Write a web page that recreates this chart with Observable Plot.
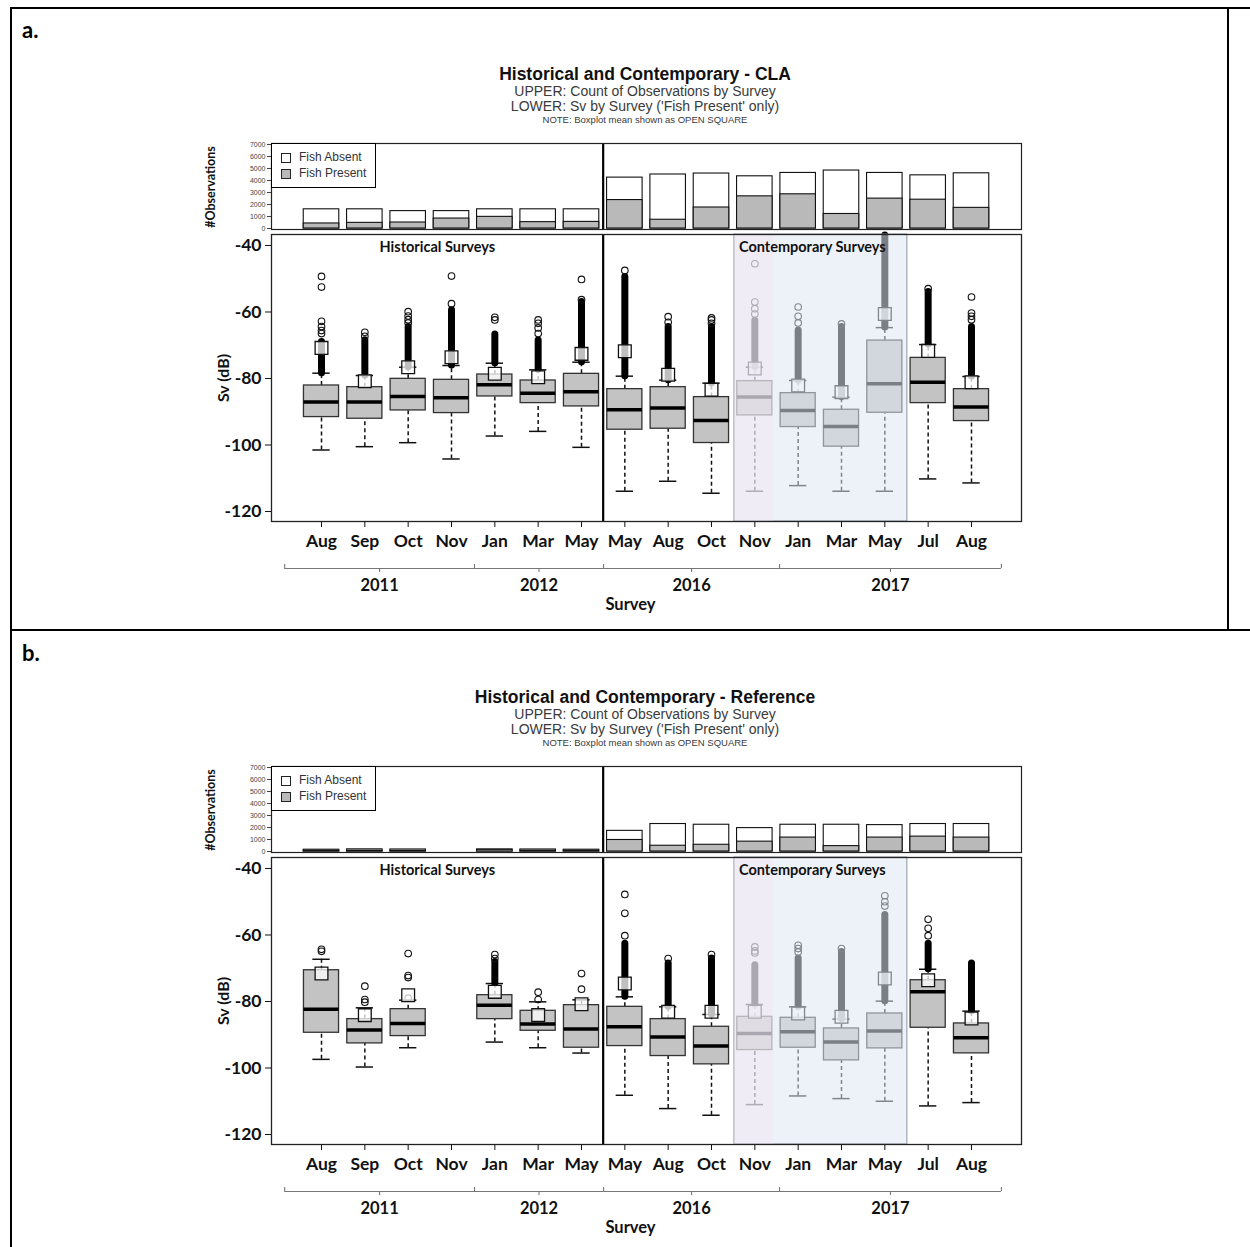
<!DOCTYPE html>
<html>
<head>
<meta charset="utf-8">
<script src="https://cdn.jsdelivr.net/npm/d3@7"></script>
<script src="https://cdn.jsdelivr.net/npm/@observablehq/plot@0.6"></script>
<style>
  body { margin: 0; background: #fff; }
  #root { position: relative; width: 1250px; height: 1247px; overflow: hidden; background: #fff; }
  .abs { position: absolute; }
  .line { position: absolute; background: #000; }
  .t1 { font: bold 17.5px "Liberation Sans", Arial, sans-serif; color: #111; text-align: center; white-space: nowrap; line-height: 18px; }
  .t2 { font: 14px "Liberation Sans", Arial, sans-serif; color: #3a3a3a; text-align: center; white-space: nowrap; line-height: 14px; }
  .t3 { font: 9.5px "Liberation Sans", Arial, sans-serif; color: #3a3a3a; text-align: center; white-space: nowrap; line-height: 10px; }
  .lbl { font: bold 22px Lato, sans-serif; color: #000; }
  .ylab { font-family: Lato, sans-serif; font-weight: bold; color: #111; white-space: nowrap; transform: translate(-50%, -50%) rotate(-90deg); }
  .legend { position: absolute; border: 1px solid #000; background: #fff; box-sizing: border-box; font: 12px "Liberation Sans", Arial, sans-serif; color: #333; }
  .sw { position: absolute; width: 8px; height: 8px; border: 1px solid #222; }
</style>
</head>
<body>
<div id="root"></div>
<script>
// ---------------- DATA ----------------
const months = ["Aug","Sep","Oct","Nov","Jan","Mar","May","May","Aug","Oct","Nov","Jan","Mar","May","Jul","Aug"];
const surveyYears = ["2011","2011","2011","2011","2012","2012","2012","2016","2016","2016","2016","2017","2017","2017","2017","2017"];

// Upper panel counts
const countTotalA   = [1600,1600,1450,1450,1600,1600,1600,4240,4500,4580,4350,4630,4830,4630,4430,4600];
const countPresentA = [ 420, 470, 500, 830, 970, 530, 550,2370, 730,1750,2680,2850,1210,2490,2400,1720];
const countTotalB   = [ 150, 180, 170,   0, 170, 170, 150,1720,2290,2230,1950,2230,2230,2200,2290,2290];
const countPresentB = [  60,  70,  60,   0, 140,  70,  60, 960, 480, 560, 820,1160, 450,1160,1240,1160];

// Lower panel box statistics (Sv dB)
const lowA  = [-101.5,-100.5,-99.3,-104.2,-97.3,-95.9,-100.7,-113.9,-110.9,-114.5,-113.9,-112.2,-113.9,-113.9,-110.2,-111.4];
const q1A   = [-91.6,-92.1,-89.6,-90.4,-85.4,-87.4,-88.4,-95.4,-95.1,-99.4,-91.1,-94.6,-100.5,-90.3,-87.4,-92.8];
const medA  = [-87.1,-87.1,-85.4,-85.8,-81.9,-84.4,-84.0,-89.4,-88.9,-92.6,-85.6,-89.6,-94.4,-81.6,-81.1,-88.6];
const q3A   = [-82.1,-82.6,-80.1,-80.4,-78.8,-80.6,-78.6,-83.2,-82.6,-85.6,-80.8,-84.4,-89.4,-68.6,-73.8,-83.2];
const hiA   = [-78.4,-79.1,-76.6,-76.1,-75.4,-77.4,-75.1,-79.3,-80.5,-81.4,-76.6,-80.6,-85.6,-64.7,-69.8,-79.4];
const meanA = [-70.8,-80.8,-76.6,-73.6,-78.6,-79.6,-72.6,-71.8,-78.9,-83.4,-77.0,-82.1,-84.1,-60.6,-71.7,-81.1];

const lowB  = [-97.4,-99.7,-93.9,null,-92.2,-93.9,-95.5,-108.2,-112.2,-114.2,-111.0,-108.4,-109.2,-110.0,-111.4,-110.4];
const q1B   = [-89.4,-92.6,-90.4,null,-85.3,-88.8,-93.9,-93.4,-96.4,-98.9,-94.6,-93.9,-97.7,-94.1,-87.9,-95.6];
const medB  = [-82.3,-88.6,-86.6,null,-81.1,-86.8,-88.3,-87.6,-90.7,-93.4,-89.6,-89.1,-92.2,-88.9,-77.1,-90.9];
const q3B   = [-70.6,-85.3,-82.3,null,-78.1,-82.8,-81.1,-81.6,-85.3,-87.6,-84.6,-84.9,-88.1,-83.6,-73.6,-86.6];
const hiB   = [-67.3,-81.9,-79.6,null,-74.6,-80.1,-79.5,-78.6,-81.6,-83.9,-80.9,-81.6,-85.3,-79.9,-70.3,-82.9];
const meanB = [-71.6,-84.1,-78.1,null,-77.1,-84.1,-80.8,-74.6,-83.1,-83.1,-83.1,-83.6,-84.6,-73.1,-73.6,-85.1];

// Outliers: dense runs [from, to] and individual points
const denseA = [[-78.4,-69.0],[-79.1,-68.5],[-76.6,-64.5],[-76.1,-59.5],[-75.4,-66.8],[-77.4,-68.6],[-75.1,-57.0],
                [-79.3,-49.5],[-80.5,-64.5],[-81.4,-64.5],[-76.6,-62.6],[-80.6,-65.6],[-85.6,-64.5],[-64.7,-37.0],[-69.8,-54.0],[-79.4,-64.5]];
const sparseA = [[-66.5,-65.6,-64.4,-62.8,-52.5,-49.3],[-67.3,-66.1],[-63.3,-62.3,-61.2,-59.9],[-57.5,-49.2],[-62.4,-61.6],
                 [-66.5,-64.8,-63.4,-62.4],[-56.3,-50.2],[-47.5],[-63.1,-61.4],[-63.4,-62.4,-61.8],[-60.6,-59.0,-57.0,-45.5],
                 [-63.3,-61.3,-58.5],[-63.6],[],[-53.0],[-62.3,-61.3,-60.3,-55.5]];
const denseB = [null,null,null,null,[-74.6,-68.1],null,null,
                [-78.6,-62.6],[-81.6,-68.6],[-83.9,-67.1],[-80.9,-69.1],[-81.6,-67.1],[-85.3,-65.1],[-79.9,-54.0],[-70.3,-62.6],[-82.9,-68.6]];
const sparseB = [[-64.9,-64.3],[-80.2,-79.4,-75.4],[-79.0,-72.8,-72.2,-65.6],[],[-67.1,-65.9],[-79.4,-77.2],[-76.3,-71.6],
                 [-60.2,-53.5,-47.8],[-67.1],[-65.9],[-65.4,-64.8,-63.6],[-65.1,-64.1,-63.1],[-64.1],[-51.3,-50.0,-48.2],[-60.2,-58.0,-55.3],[]];

// Axis ticks and decorations
const countTicks = [0,1000,2000,3000,4000,5000,6000,7000];
const svTicks = [-120,-100,-80,-60,-40];
const yearLabels = ["2011","2012","2016","2017"];
const yearBreaks = [-0.85, 3.53, 6.51, 10.57, 15.69];
const eraDivider = 6.5;            // between historical and contemporary
const shadeSpan = [9.53, 13.52];   // shaded block (Nov 2016 - May 2017)
const pinkSpan  = [9.53, 10.43];

// ---------------- LAYOUT ----------------
const root = document.getElementById("root");
function add(html) { root.insertAdjacentHTML("beforeend", html); }
function place(node, left, top) { node.style.position = "absolute"; node.style.left = left + "px"; node.style.top = top + "px"; root.appendChild(node); }

// table borders
add(`<div class="line" style="left:10px;top:7px;width:1240px;height:2px"></div>`);
add(`<div class="line" style="left:10px;top:7px;width:2px;height:1240px"></div>`);
add(`<div class="line" style="left:10px;top:629px;width:1240px;height:2px"></div>`);
add(`<div class="line" style="left:1227px;top:7px;width:2px;height:623px"></div>`);

const X_DOMAIN = [-1.154, 16.154];
const ML = 81, MR = 9, W = 840, LEFT = 190;

function drawPanel(off, tag, titleText, total, present, st, dense, sparse) {
  add(`<div class="abs lbl" style="left:22px;top:${off+16}px">${tag}</div>`);
  add(`<div class="abs t1" style="left:395px;width:500px;top:${off+65}px">${titleText}</div>`);
  add(`<div class="abs t2" style="left:395px;width:500px;top:${off+84}px">UPPER: Count of Observations by Survey</div>`);
  add(`<div class="abs t2" style="left:395px;width:500px;top:${off+99}px">LOWER: Sv by Survey ('Fish Present' only)</div>`);
  add(`<div class="abs t3" style="left:395px;width:500px;top:${off+115}px">NOTE: Boxplot mean shown as OPEN SQUARE</div>`);
  add(`<div class="abs ylab" style="left:210px;top:${off+187}px;font-size:12.5px">#Observations</div>`);
  add(`<div class="abs ylab" style="left:222px;top:${off+378}px;font-size:16px">Sv (dB)</div>`);

  // ----- upper: counts -----
  const bars = d3.range(16).map(i => ({i, total: total[i], present: present[i]})).filter(d => d.total > 0);
  const upper = Plot.plot({
    width: W, height: 100, marginLeft: ML, marginRight: MR, marginTop: 8, marginBottom: 6,
    style: {background: "transparent", fontFamily: "'Liberation Sans', Arial, sans-serif", fontSize: "7px", color: "#444"},
    x: {type: "linear", domain: X_DOMAIN, axis: null},
    y: {domain: [0, 7000], ticks: countTicks, tickSize: 4, tickPadding: 2, label: null, tickFormat: d => String(d), insetTop: 1, insetBottom: 1},
    marks: [
      Plot.rect(bars, {x1: d => d.i - 0.41, x2: d => d.i + 0.41, y1: 0, y2: "total", fill: "white", stroke: "#111", strokeWidth: 1.1}),
      Plot.rect(bars, {x1: d => d.i - 0.41, x2: d => d.i + 0.41, y1: 0, y2: "present", fill: "#b9b9b9", stroke: "#111", strokeWidth: 1.1}),
      Plot.ruleX([eraDivider], {stroke: "#000", strokeWidth: 2.2}),
      Plot.frame({stroke: "#222", strokeWidth: 1.2})
    ]
  });
  place(upper, LEFT, off + 135);

  // legend
  add(`<div class="legend" style="left:271px;top:${off+143}px;width:105px;height:45px">
        <div class="sw" style="left:9px;top:9px;background:#fff"></div>
        <div class="abs" style="left:27px;top:6px">Fish Absent</div>
        <div class="sw" style="left:9px;top:25px;background:#b9b9b9"></div>
        <div class="abs" style="left:27px;top:22px">Fish Present</div>
      </div>`);

  // ----- lower: boxplots -----
  const rows = d3.range(16).filter(i => st.med[i] != null).map(i => ({
    i, lo: st.lo[i], q1: st.q1[i], med: st.med[i], q3: st.q3[i], hi: st.hi[i], mean: st.mean[i]
  }));
  const denseRows = d3.range(16).filter(i => dense[i]).map(i => ({i, a: dense[i][0], b: dense[i][1]}));
  const sparseRows = d3.range(16).flatMap(i => sparse[i].map(v => ({i, v})));
  const hw = 0.405, cw = 0.2;
  const lower = Plot.plot({
    width: W, height: 329, marginLeft: ML, marginRight: MR, marginTop: 8, marginBottom: 34,
    style: {background: "transparent", fontFamily: "Lato, sans-serif", fontSize: "17.5px", fontWeight: "bold", color: "#111"},
    x: {type: "linear", domain: X_DOMAIN, ticks: d3.range(16), tickFormat: i => months[i], tickSize: 6, tickPadding: 7, label: null},
    y: {domain: [-123.0, -36.7], ticks: svTicks, tickSize: 6, tickPadding: 4, label: null, tickFormat: d => String(d)},
    marks: [
      Plot.ruleX(rows, {x: "i", y1: "lo", y2: "q1", stroke: "#111", strokeWidth: 1.5, strokeDasharray: "4,3"}),
      Plot.ruleX(rows, {x: "i", y1: "q3", y2: "hi", stroke: "#111", strokeWidth: 1.5, strokeDasharray: "4,3"}),
      Plot.ruleY(rows, {x1: d => d.i - cw, x2: d => d.i + cw, y: "lo", stroke: "#111", strokeWidth: 1.5}),
      Plot.ruleY(rows, {x1: d => d.i - cw, x2: d => d.i + cw, y: "hi", stroke: "#111", strokeWidth: 1.5}),
      Plot.rect(rows, {x1: d => d.i - hw, x2: d => d.i + hw, y1: "q1", y2: "q3", fill: "#c3c3c3", stroke: "#333", strokeWidth: 1.3}),
      Plot.ruleY(rows, {x1: d => d.i - hw, x2: d => d.i + hw, y: "med", stroke: "#000", strokeWidth: 3.5}),
      Plot.ruleX(denseRows, {x: "i", y1: "a", y2: "b", stroke: "#000", strokeWidth: 7, strokeLinecap: "round"}),
      Plot.dot(sparseRows, {x: "i", y: "v", r: 3.3, stroke: "#111", strokeWidth: 1.1, fill: "none"}),
      Plot.dot(rows, {x: "i", y: "mean", symbol: "square", r: 7.2, stroke: "#111", strokeWidth: 1.3, fill: "white", fillOpacity: 0.75}),
      Plot.rect([shadeSpan], {x1: d => d[0], x2: d => d[1], fill: "#dfe5f3", fillOpacity: 0.55, stroke: "#8d94a6", strokeWidth: 1}),
      Plot.rect([pinkSpan], {x1: d => d[0], x2: d => d[1], fill: "#f4e7f0", fillOpacity: 0.4}),
      Plot.text(["Historical Surveys"], {x: (X_DOMAIN[0] + eraDivider) / 2, frameAnchor: "top", dy: 7, fontSize: 14.5, fontWeight: "bold", fill: "#111"}),
      Plot.text(["Contemporary Surveys"], {x: (X_DOMAIN[1] + eraDivider) / 2, frameAnchor: "top", dy: 7, fontSize: 14.5, fontWeight: "bold", fill: "#111"}),
      Plot.ruleX([eraDivider], {stroke: "#000", strokeWidth: 2.2}),
      Plot.frame({stroke: "#222", strokeWidth: 1.3})
    ]
  });
  place(lower, LEFT, off + 226);

  // ----- year brackets -----
  const brackets = yearLabels.map((y, k) => ({year: y, a: yearBreaks[k], b: yearBreaks[k + 1]}));
  const yr = Plot.plot({
    width: W, height: 65, marginLeft: ML, marginRight: MR, marginTop: 0, marginBottom: 0,
    style: {background: "transparent", fontFamily: "Lato, sans-serif", fontSize: "16.5px", fontWeight: "bold", color: "#111"},
    x: {type: "linear", domain: X_DOMAIN, axis: null},
    y: {domain: [0, 65], range: [0, 65], axis: null},
    marks: [
      Plot.ruleY(brackets, {x1: "a", x2: "b", y: 13, stroke: "#777", strokeWidth: 1.1}),
      Plot.ruleX(yearBreaks, {x: d => d, y1: 9, y2: 13, stroke: "#777", strokeWidth: 1.1}),
      Plot.ruleX(brackets, {x: d => (d.a + d.b) / 2, y1: 13, y2: 17, stroke: "#777", strokeWidth: 1.1}),
      Plot.text(brackets, {x: d => (d.a + d.b) / 2, y: 30, text: "year", fill: "#111"}),
      Plot.text(["Survey"], {x: 7.13, y: 49, fill: "#111"})
    ]
  });
  place(yr, LEFT, off + 555);
}

drawPanel(0, "a.", "Historical and Contemporary - CLA", countTotalA, countPresentA,
  {lo: lowA, q1: q1A, med: medA, q3: q3A, hi: hiA, mean: meanA}, denseA, sparseA);
drawPanel(623, "b.", "Historical and Contemporary - Reference", countTotalB, countPresentB,
  {lo: lowB, q1: q1B, med: medB, q3: q3B, hi: hiB, mean: meanB}, denseB, sparseB);
</script>
</body>
</html>
